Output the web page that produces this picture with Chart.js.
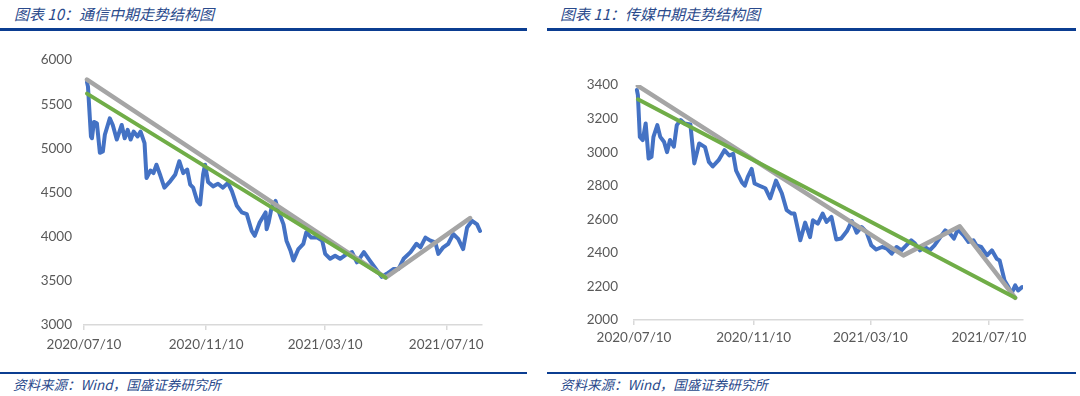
<!DOCTYPE html>
<html><head><meta charset="utf-8">
<script src="https://cdn.jsdelivr.net/npm/chart.js@4/dist/chart.umd.min.js"></script>
<style>
html,body{margin:0;padding:0;background:#fff;}
body{width:1080px;height:396px;position:relative;overflow:hidden;}
.title{position:absolute;top:3px;font-family:"Noto Sans CJK SC","Noto Sans",sans-serif;font-style:italic;font-size:15px;color:#2a4a8c;white-space:nowrap;}
.rule{position:absolute;background:#0b3d91;}
.src{position:absolute;top:374px;font-family:"Noto Sans CJK SC","Noto Sans",sans-serif;font-style:italic;font-size:13.5px;color:#2a4a8c;white-space:nowrap;}
canvas{position:absolute;}
</style></head>
<body>
<div class="title" style="left:14px">图表 10：通信中期走势结构图</div>
<div class="title" style="left:560px">图表 11：传媒中期走势结构图</div>
<div class="rule" style="left:0;top:28px;width:527px;height:3px"></div>
<div class="rule" style="left:547px;top:28px;width:529px;height:3px"></div>
<div class="rule" style="left:0;top:372px;width:527px;height:2px"></div>
<div class="rule" style="left:547px;top:372px;width:529px;height:2px"></div>
<div class="src" style="left:13px">资料来源：Wind，国盛证券研究所</div>
<div class="src" style="left:560px">资料来源：Wind，国盛证券研究所</div>
<canvas id="c1" width="527" height="325" style="left:0;top:40px"></canvas>
<canvas id="c2" width="533" height="325" style="left:547px;top:40px"></canvas>
<script>
// ---- data (x = days since 2020/07/10) ----
const xTickLabels = ['2020/07/10','2020/11/10','2021/03/10','2021/07/10'];

const commDays = [3,4,7,8,10,13,16,19,21,26,29,33,38,41,44,47,50,54,57,61,63,67,70,73,77,81,87,92,96,100,104,107,110,114,117,120,122,125,130,135,140,145,149,154,159,164,169,172,177,183,184,186,189,193,196,201,204,208,211,216,221,224,229,235,240,243,248,253,258,265,270,275,282,288,295,300,305,312,317,322,329,335,339,344,349,354,357,362,367,372,377,382,386,391,396,399];
const commValues = [5750,5700,5135,5115,5300,5285,4950,4965,5155,5340,5265,5100,5265,5115,5210,5100,5190,5135,5190,5060,4665,4750,4720,4815,4690,4555,4630,4705,4855,4720,4760,4590,4555,4405,4365,4705,4815,4620,4570,4600,4555,4610,4515,4350,4275,4255,4065,4010,4160,4275,4085,4160,4330,4405,4290,4140,3955,3845,3730,3860,3920,4050,3990,3990,3955,3805,3750,3785,3750,3805,3825,3710,3825,3730,3620,3545,3580,3635,3635,3750,3825,3920,3880,3990,3955,3935,3805,3880,3920,4030,3975,3860,4105,4180,4140,4065];
const commGrayDays = [3,304,389];
const commGrayValues = [5780,3536,4210];
const commGreenDays = [3,304];
const commGreenValues = [5620,3536];

const mediaDays = [3,4,6,9,12,15,18,20,24,27,31,34,37,41,44,48,52,58,62,67,73,77,81,87,93,98,102,105,111,114,117,121,124,129,135,140,146,152,157,162,165,171,176,181,184,189,194,198,203,208,213,219,224,229,234,239,244,249,255,260,265,270,275,280,285,289,294,299,304,309,315,320,325,329,333,339,344,349,352,357,363,368,373,376,381,385,388,392,395,399];
const mediaValues = [3370,3340,3091,3072,3171,2962,2972,3091,3161,3091,3060,3000,3072,3032,3161,3191,3171,3165,2933,3052,3030,2942,2915,2952,3012,2980,2990,2890,2820,2800,2853,2900,2813,2800,2785,2725,2830,2755,2654,2634,2634,2475,2580,2494,2594,2574,2634,2584,2614,2480,2485,2530,2590,2520,2554,2525,2445,2420,2435,2425,2395,2435,2415,2445,2475,2455,2415,2435,2415,2445,2494,2534,2514,2485,2540,2504,2465,2475,2445,2435,2385,2415,2365,2355,2236,2196,2156,2206,2176,2196];
const mediaGrayDays = [4,277,335,392];
const mediaGrayValues = [3395,2385,2558,2132];
const mediaGreenDays = [4,392];
const mediaGreenValues = [3315,2132];

// ---- helpers ----
const base = Date.UTC(2020,6,10);
const tickDays = xTickLabels.map(s=>{const p=s.split('/').map(Number);return Math.round((Date.UTC(p[0],p[1]-1,p[2])-base)/86400000);});
const pts = (xs,ys)=>xs.map((x,i)=>({x:x,y:ys[i]}));
const FONT = {family:'Lato, "Liberation Sans", sans-serif', size:13.5};
const TXT = '#595959';

function makeChart(id, cfg){
  new Chart(document.getElementById(id), {
    type:'line',
    data:{datasets:[
      {data:pts(cfg.greenD,cfg.greenV), borderColor:'#70AD47', borderWidth:4, order:0},
      {data:pts(cfg.grayD,cfg.grayV), borderColor:'#A5A5A5', borderWidth:4.5, order:1},
      {data:pts(cfg.blueD,cfg.blueV), borderColor:'#4472C4', borderWidth:4, order:2}
    ]},
    options:{
      responsive:false, animation:false, devicePixelRatio:1,
      layout:{padding:{left:0,right:cfg.padRight,top:cfg.padTop,bottom:0}},
      elements:{point:{radius:0},line:{tension:0,borderJoinStyle:'round',borderCapStyle:'round'}},
      plugins:{legend:{display:false},tooltip:{enabled:false}},
      scales:{
        x:{type:'linear', min:0, max:cfg.xMax,
          afterBuildTicks:s=>{s.ticks=tickDays.map(v=>({value:v}));},
          afterFit:s=>{s.height=cfg.xH;},
          ticks:{autoSkip:false,maxRotation:0,padding:cfg.xPad,color:TXT,font:FONT,
            callback:(v,i)=>xTickLabels[i]},
          grid:{drawOnChartArea:false,drawTicks:true,tickLength:5,color:'#D9D9D9',lineWidth:1.5},
          border:{display:true,color:'#D9D9D9',width:1.5}
        },
        y:{min:cfg.yMin,max:cfg.yMax,
          afterBuildTicks:s=>{const t=[];for(let v=cfg.yMin;v<=cfg.yMax;v+=cfg.yStep)t.push({value:v});s.ticks=t;},
          afterFit:s=>{s.width=cfg.yW;},
          ticks:{padding:cfg.yPad,color:TXT,font:FONT,callback:v=>String(v)},
          grid:{display:false,drawTicks:false},
          border:{display:false}
        }
      }
    }
  });
}

makeChart('c1',{blueD:commDays,blueV:commValues,grayD:commGrayDays,grayV:commGrayValues,greenD:commGreenDays,greenV:commGreenValues,
  xMax:401,yMin:3000,yMax:6000,yStep:500,yW:84,yPad:12,padRight:45,padTop:16,xH:40,xPad:7});
makeChart('c2',{blueD:mediaDays,blueV:mediaValues,grayD:mediaGrayDays,grayV:mediaGrayValues,greenD:mediaGreenDays,greenV:mediaGreenValues,
  xMax:400,yMin:2000,yMax:3400,yStep:200,yW:87,yPad:16,padRight:57,padTop:45,xH:45,xPad:5});
</script>
</body></html>
